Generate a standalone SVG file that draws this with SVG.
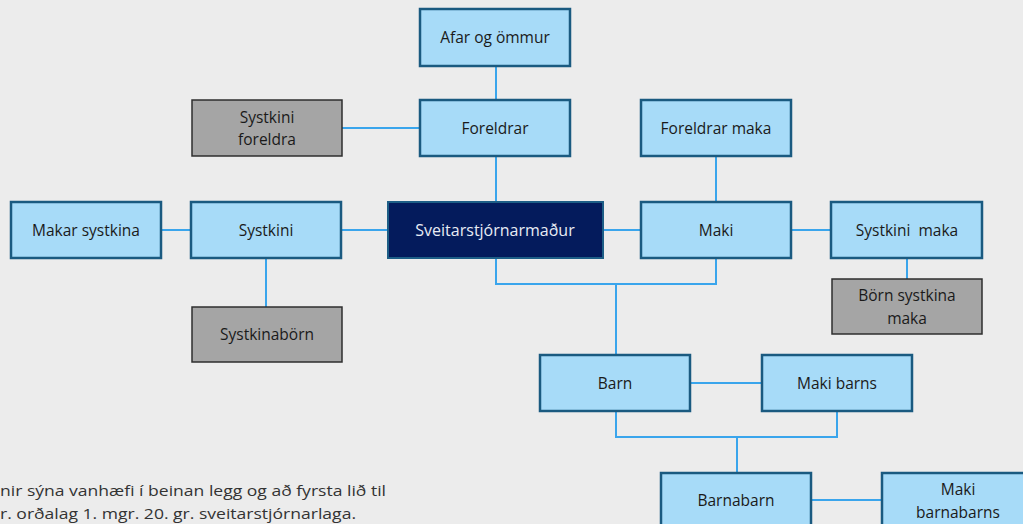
<svg xmlns="http://www.w3.org/2000/svg" width="1023" height="524" viewBox="0 0 1023 524">
<style>
.b{fill:#a7dbf8;stroke:#1a5a80;stroke-width:2.5}
.g{fill:#a5a5a5;stroke:#2e2e2e;stroke-width:1.5}
.d{fill:#041b5c;stroke:#1d5e86;stroke-width:2}
text{font-family:"Open Sans","Liberation Sans",sans-serif;font-size:15.5px;fill:#1a1a1a;text-anchor:middle}
.w{fill:#e8ecf4;font-size:16px}
.n{text-anchor:start;font-size:14px;fill:#333}
#conn path{fill:none;stroke:#3aa5ec;stroke-width:2}
</style>
<rect width="1023" height="524" fill="#ececec"/>
<g id="conn">
<path d="M496 66V100"/>
<path d="M342 128H420"/>
<path d="M496 156V202"/>
<path d="M716 156V202"/>
<path d="M161 230H191"/>
<path d="M341 230H388"/>
<path d="M603 230H641"/>
<path d="M791 230H831"/>
<path d="M907 258V279"/>
<path d="M266 258V307"/>
<path d="M496 258V284H716V258"/>
<path d="M616 284V355"/>
<path d="M690 383H762"/>
<path d="M616 411V437H837V411"/>
<path d="M737 437V473"/>
<path d="M811 500H882"/>
</g>
<g id="afar"><rect class="b" x="420" y="9" width="150" height="57"/><text x="495" y="43">Afar og ömmur</text></g>
<g id="foreldrar"><rect class="b" x="420" y="100" width="150" height="56"/><text x="495" y="134">Foreldrar</text></g>
<g id="systkini-foreldra"><rect class="g" x="192" y="100" width="150" height="56"/><text x="267" y="123">Systkini</text><text x="267" y="145">foreldra</text></g>
<g id="foreldrar-maka"><rect class="b" x="641" y="100" width="150" height="56"/><text x="716" y="134">Foreldrar maka</text></g>
<g id="makar-systkina"><rect class="b" x="11" y="202" width="150" height="56"/><text x="86" y="236">Makar systkina</text></g>
<g id="systkini"><rect class="b" x="191" y="202" width="150" height="56"/><text x="266" y="236">Systkini</text></g>
<g id="sveit"><rect class="d" x="388" y="202" width="215" height="56"/><text class="w" x="495" y="236">Sveitarstjórnarmaður</text></g>
<g id="maki"><rect class="b" x="641" y="202" width="150" height="56"/><text x="716" y="236">Maki</text></g>
<g id="systkini-maka"><rect class="b" x="831" y="202" width="151" height="56"/><text x="907" y="236" xml:space="preserve">Systkini  maka</text></g>
<g id="born-systkina-maka"><rect class="g" x="832" y="279" width="150" height="55"/><text x="907" y="301">Börn systkina</text><text x="907" y="324">maka</text></g>
<g id="systkinaborn"><rect class="g" x="192" y="307" width="150" height="55"/><text x="267" y="340">Systkinabörn</text></g>
<g id="barn"><rect class="b" x="540" y="355" width="150" height="56"/><text x="615" y="389">Barn</text></g>
<g id="maki-barns"><rect class="b" x="762" y="355" width="150" height="56"/><text x="837" y="389">Maki barns</text></g>
<g id="barnabarn"><rect class="b" x="661" y="473" width="150" height="60"/><text x="736" y="506">Barnabarn</text></g>
<g id="maki-barnabarns"><rect class="b" x="882" y="473" width="152" height="60"/><text x="958" y="495">Maki</text><text x="958" y="518">barnabarns</text></g>
<g id="note">
<text class="n" x="0" y="496" textLength="386" lengthAdjust="spacingAndGlyphs">nir sýna vanhæfi í beinan legg og að fyrsta lið til</text>
<text class="n" x="0" y="519" textLength="356" lengthAdjust="spacingAndGlyphs">r. orðalag 1. mgr. 20. gr. sveitarstjórnarlaga.</text>
</g>
</svg>
